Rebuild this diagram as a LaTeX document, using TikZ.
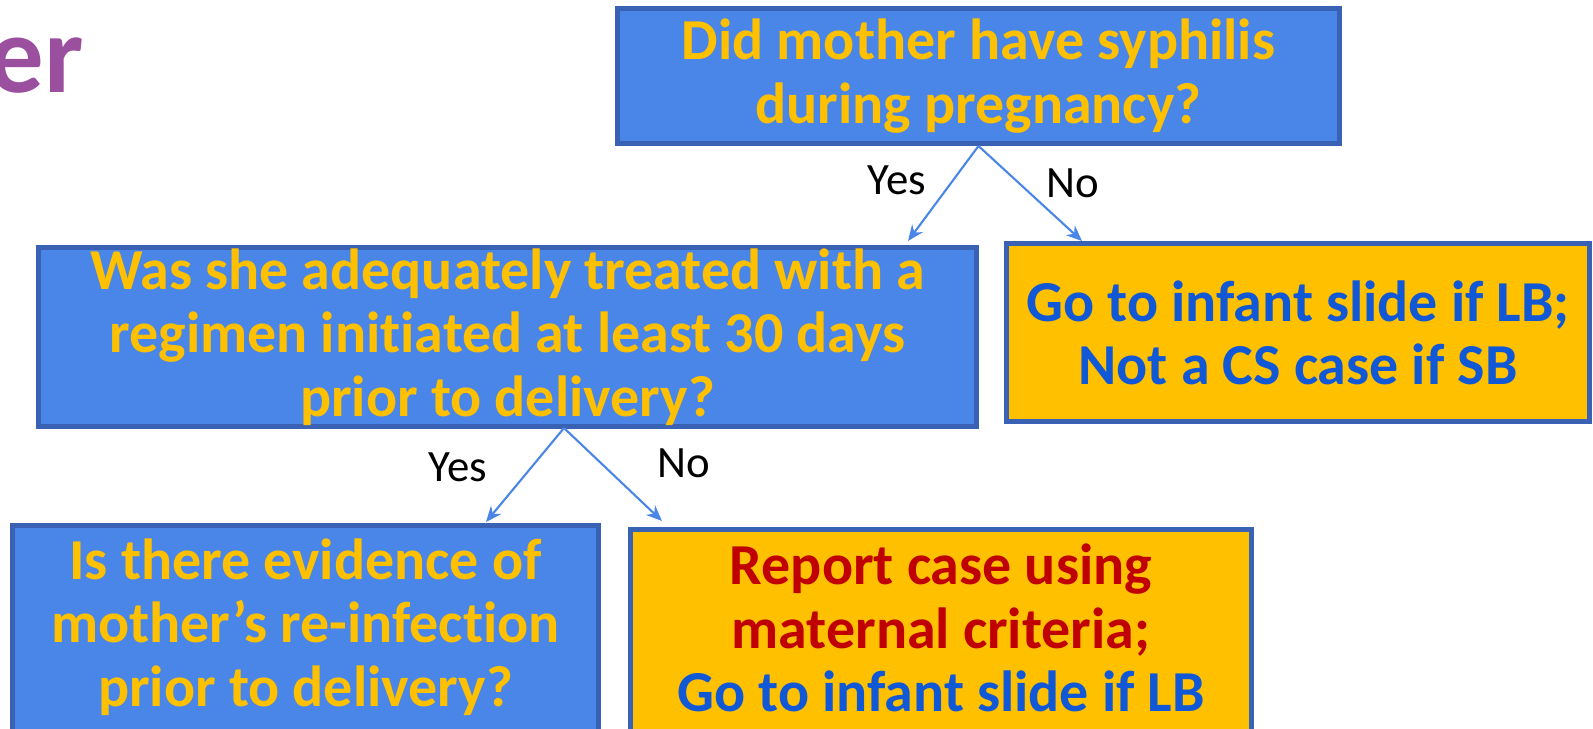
\documentclass[tikz,border=0pt]{standalone}
\usepackage{fontspec}
\setmainfont{Carlito}[RawFeature=-liga]
\usetikzlibrary{arrows.meta,positioning}

\definecolor{boxblue}{HTML}{4A86E8}
\definecolor{edgeblue}{HTML}{3A62B4}
\definecolor{boxorange}{HTML}{FFC000}
\definecolor{textyellow}{HTML}{FFC000}
\definecolor{textblue}{HTML}{1158D6}
\definecolor{textred}{HTML}{C00000}
\definecolor{titlepurple}{HTML}{9B4F9F}

\tikzset{
  question/.style={draw=edgeblue, line width=2.8pt, fill=boxblue, text=textyellow,
    font=\bfseries\fontsize{33}{36}\selectfont, align=center, inner sep=0pt},
  outcome/.style={question, fill=boxorange, text=textblue},
  branch/.style={draw=boxblue, line width=1.2pt, -{Stealth[length=9pt,width=7.5pt]}},
  choice/.style={font=\fontsize{25.5}{30}\selectfont, inner sep=0pt},
}

\begin{document}
\begin{tikzpicture}[x=0.02cm,y=-0.02cm]
  \useasboundingbox (0,0) rectangle (1593,728);
  \node[anchor=base east, text=titlepurple, font=\bfseries\fontsize{63}{70}\selectfont, inner sep=0pt] (title) at (84,92) {her};

  % boxes
  \node[question, minimum width=722*0.02cm, minimum height=135*0.02cm] (syph) at (978.5,76) {Did mother have syphilis\\during pregnancy?};
  \node[question, minimum width=938*0.02cm, minimum height=179*0.02cm] (treated) at (507.5,337) {Was she adequately treated with a\\regimen initiated at least 30 days\\prior to delivery?};
  \node[outcome, minimum width=583*0.02cm, minimum height=178*0.02cm] (infant) at (1298,332.5) {Go to infant slide if LB;\\Not a CS case if SB};
  \node[question, minimum width=586*0.02cm, minimum height=212*0.02cm] (reinf) at (305.5,631.5) {};
  \node[outcome, minimum width=621*0.02cm, minimum height=208*0.02cm] (report) at (941,633.5) {};
  % texts of the cut-off boxes
  \node[question, draw=none, fill=none] (reinftext) at (305.5,627) {Is there evidence of\\mother’s re-infection\\prior to delivery?};
  \node[outcome, draw=none, fill=none] (reporttext) at (941,628) {\textcolor{textred}{Report case using}\\\textcolor{textred}{maternal criteria;}\\Go to infant slide if LB};

  % arrow ends
  \coordinate (fork) at (564,428);
  \coordinate (yesone) at (908,241);
  \coordinate (noone) at (1082,241);
  \coordinate (yestwo) at (486,522);
  \coordinate (notwo) at (662,521);

  \draw[branch] (syph.south) -- (yesone);
  \draw[branch] (syph.south) -- (noone);
  \draw[branch] (fork) -- (yestwo);
  \draw[branch] (fork) -- (notwo);

  \node[choice] (yeslabel) at (897,180) {Yes};
  \node[choice] (nolabel) at (1073,183) {No};
  \node[choice] (yeslabeltwo) at (458,467) {Yes};
  \node[choice] (nolabeltwo) at (684,463) {No};
\end{tikzpicture}
\end{document}
